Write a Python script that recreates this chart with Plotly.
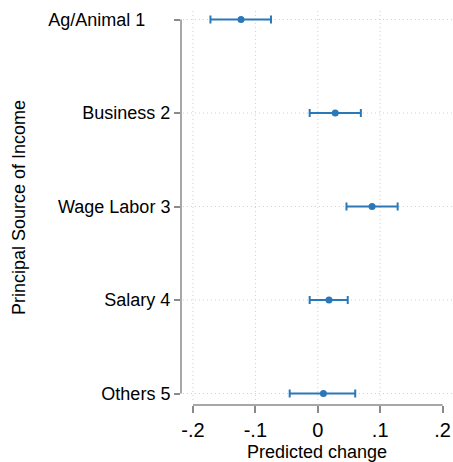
import plotly.graph_objects as go

# Predicted change by principal source of income (point estimate with 95% CI)
categories = ["Ag/Animal 1", "Business 2", "Wage Labor 3", "Salary 4", "Others 5"]
positions = [1, 2, 3, 4, 5]
estimate = [-0.123, 0.028, 0.087, 0.018, 0.009]
ci_low = [-0.172, -0.013, 0.046, -0.013, -0.045]
ci_high = [-0.075, 0.069, 0.128, 0.048, 0.060]

x_ticks = [-0.2, -0.1, 0, 0.1, 0.2]
x_tick_text = ["-.2", "-.1", "0", ".1", ".2"]

BLUE = "#2a78b8"
AXIS = "#8a8a8a"
GRID = "#cccccc"
FONT = "Liberation Sans, Arial, Helvetica, sans-serif"

# first label sits a little left of the others
tick_text = [categories[0] + "\u00a0" * 5] + categories[1:]

fig = go.Figure()
fig.add_trace(go.Scatter(
    x=estimate,
    y=positions,
    mode="markers",
    marker=dict(color=BLUE, size=7),
    error_x=dict(
        type="data",
        symmetric=False,
        array=[h - e for h, e in zip(ci_high, estimate)],
        arrayminus=[e - l for e, l in zip(estimate, ci_low)],
        color=BLUE,
        thickness=2,
        width=4,
    ),
    showlegend=False,
))

DOT = "1px,3px"
shapes = []
# vertical dotted gridlines
for v in x_ticks[:-1]:
    shapes.append(dict(type="line", xref="x", yref="paper", x0=v, x1=v, y0=0.013, y1=1,
                       line=dict(color=GRID, width=1, dash=DOT), layer="below"))
# horizontal dotted gridlines
for p in positions:
    shapes.append(dict(type="line", xref="paper", yref="y", x0=0.007, x1=1, y0=p, y1=p,
                       line=dict(color=GRID, width=1, dash=DOT), layer="below"))
# axis lines spanning the tick range
shapes.append(dict(type="line", xref="paper", yref="y", x0=0, x1=0,
                   y0=positions[0], y1=positions[-1], line=dict(color=AXIS, width=1.5)))
shapes.append(dict(type="line", xref="x", yref="paper", x0=x_ticks[0], x1=x_ticks[-1],
                   y0=0, y1=0, line=dict(color=AXIS, width=1.5)))

fig.update_layout(
    width=453,
    height=462,
    margin=dict(l=181, r=0, t=10, b=57),
    paper_bgcolor="white",
    plot_bgcolor="white",
    font=dict(family=FONT, size=18, color="black"),
    shapes=shapes,
    xaxis=dict(
        range=[-0.2192, 0.2167],
        tickvals=x_ticks,
        ticktext=x_tick_text,
        ticks="outside",
        ticklen=7,
        tickwidth=1.5,
        tickcolor=AXIS,
        showgrid=False,
        zeroline=False,
        showline=False,
        tickfont=dict(size=20),
        title=dict(text="Predicted change", font=dict(size=18), standoff=6),
    ),
    yaxis=dict(
        range=[5.123, 0.898],
        tickvals=positions,
        ticktext=tick_text,
        ticks="outside",
        ticklen=6,
        tickwidth=1.5,
        tickcolor=AXIS,
        showgrid=False,
        zeroline=False,
        showline=False,
        tickfont=dict(size=18),
        title=dict(text="Principal Source of Income", font=dict(size=18), standoff=18),
    ),
)

fig.write_html("out.html")
